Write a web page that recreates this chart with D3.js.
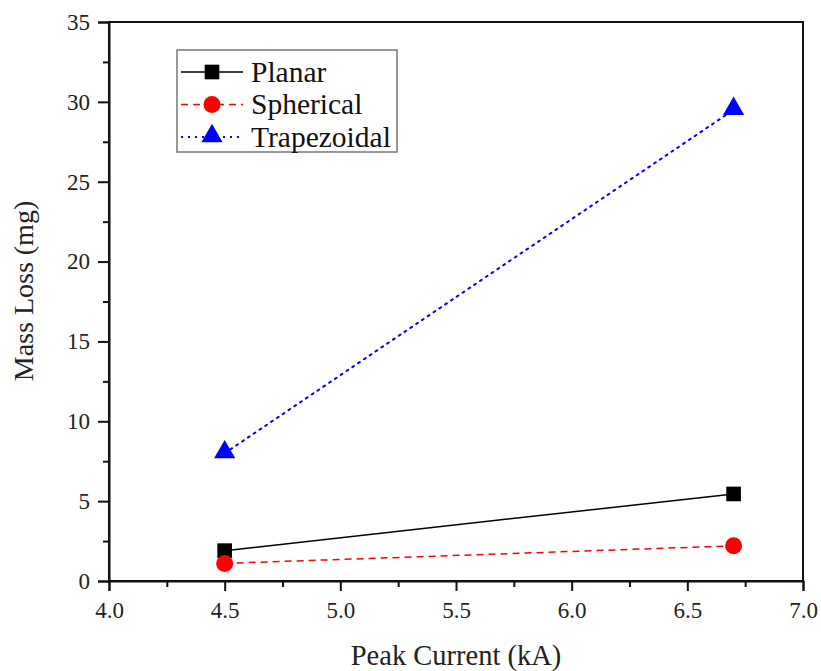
<!DOCTYPE html>
<html><head><meta charset="utf-8">
<script src="https://cdn.jsdelivr.net/npm/d3@7"></script>
<style>body{margin:0;background:#fff}svg{display:block}</style>
</head><body>
<script>
const xValues = [4.5, 6.7];
const planar = [1.9, 5.45];
const spherical = [1.1, 2.2];
const trapezoidal = [8.0, 29.5];
const seriesNames = ["Planar", "Spherical", "Trapezoidal"];
const xTicks = [4.0, 4.5, 5.0, 5.5, 6.0, 6.5, 7.0];
const yTicks = [0, 5, 10, 15, 20, 25, 30, 35];

const W = 821, H = 671;
const m = {l:109, r:18, t:22, b:90};
const svg = d3.select("body").append("svg").attr("width", W).attr("height", H);
const x = d3.scaleLinear().domain([4, 7]).range([m.l, W - m.r]);
const y = d3.scaleLinear().domain([0, 35]).range([H - m.b, m.t]);
const font = "'Liberation Serif', 'Times New Roman', serif";

// frame
svg.append("rect").attr("x", x(4)).attr("y", y(35)).attr("width", x(7)-x(4)).attr("height", y(0)-y(35))
  .attr("fill","none").attr("stroke","#111").attr("stroke-width",2);

// x axis
const xMinor = d3.range(4.25, 7, 0.5);
const xa = svg.append("g").attr("transform", `translate(0,${y(0)})`)
  .call(d3.axisBottom(x).tickValues(xTicks).tickFormat(d3.format(".1f")).tickSize(10).tickPadding(11));
xa.attr("font-family", font).attr("font-size", 23);
xa.select(".domain").attr("stroke-width",2).attr("stroke","#111");
xa.selectAll(".tick line").attr("stroke-width",2).attr("stroke","#111");
xa.selectAll(".tick text").attr("font-family", font).attr("font-size", 23).attr("fill","#222");
svg.append("g").attr("transform", `translate(0,${y(0)})`)
  .call(d3.axisBottom(x).tickValues(xMinor).tickFormat("").tickSize(6))
  .call(g=>{g.select(".domain").remove(); g.selectAll("line").attr("stroke-width",2).attr("stroke","#111");});

// y axis
const yMinor = d3.range(2.5, 35, 5);
const ya = svg.append("g").attr("transform", `translate(${x(4)},0)`)
  .call(d3.axisLeft(y).tickValues(yTicks).tickSize(11).tickPadding(8));
ya.attr("font-family", font).attr("font-size", 23);
ya.select(".domain").attr("stroke-width",2).attr("stroke","#111");
ya.selectAll(".tick line").attr("stroke-width",2).attr("stroke","#111");
ya.selectAll(".tick text").attr("font-family", font).attr("font-size", 23).attr("fill","#222");
svg.append("g").attr("transform", `translate(${x(4)},0)`)
  .call(d3.axisLeft(y).tickValues(yMinor).tickFormat("").tickSize(6))
  .call(g=>{g.select(".domain").remove(); g.selectAll("line").attr("stroke-width",2).attr("stroke","#111");});

// titles
svg.append("text").attr("x", 456).attr("y", 665).attr("text-anchor","middle")
  .attr("font-family", font).attr("font-size", 28.5).attr("fill","#222").text("Peak Current (kA)");
svg.append("text").attr("transform", `translate(33,291) rotate(-90)`).attr("text-anchor","middle")
  .attr("font-family", font).attr("font-size", 28).attr("fill","#222").text("Mass Loss (mg)");

const styles = [
  {data: planar, color:"#000", dash:null, width:1.5, marker:"square"},
  {data: spherical, color:"#ff0000", dash:"7,5", width:1.5, marker:"circle"},
  {data: trapezoidal, color:"#0000ff", dash:"2,5", width:2, marker:"triangle"}
];
const symFor = t => t==="square" ? d3.symbol(d3.symbolSquare, 215) : t==="circle" ? d3.symbol(d3.symbolCircle, 227) : d3.symbol(d3.symbolTriangle, 195);

styles.forEach(s => {
  const pts = xValues.map((v,i)=>[v, s.data[i]]);
  svg.append("path").datum(pts).attr("fill","none").attr("stroke", s.color).attr("stroke-width", s.width)
    .attr("stroke-dasharray", s.dash).attr("stroke-linecap", s.marker==="triangle"?"round":"butt")
    .attr("d", d3.line().x(d=>x(d[0])).y(d=>y(d[1])));
  svg.selectAll(null).data(pts).enter().append("path")
    .attr("transform", d=>`translate(${x(d[0])},${y(d[1]) + (s.marker==="triangle"? -1:0)})`)
    .attr("d", symFor(s.marker)()).attr("fill", s.color);
});

// legend
const lg = svg.append("g");
lg.append("rect").attr("x",177).attr("y",50).attr("width",220).attr("height",102)
  .attr("fill","#fff").attr("stroke","#777").attr("stroke-width",1.5);
styles.forEach((s,i) => {
  const cy = 72 + i*32.5;
  lg.append("line").attr("x1",181).attr("x2",243).attr("y1",cy).attr("y2",cy)
    .attr("stroke", s.color).attr("stroke-width", s.width).attr("stroke-dasharray", s.dash);
  lg.append("path").attr("transform", `translate(212,${cy + (s.marker==="triangle"?-1:0)})`).attr("d", symFor(s.marker)()).attr("fill", s.color);
  lg.append("text").attr("x",251).attr("y",cy+9.5).attr("font-family", font).attr("font-size",29.5).attr("fill","#111").text(seriesNames[i]);
});
</script>
</body></html>
